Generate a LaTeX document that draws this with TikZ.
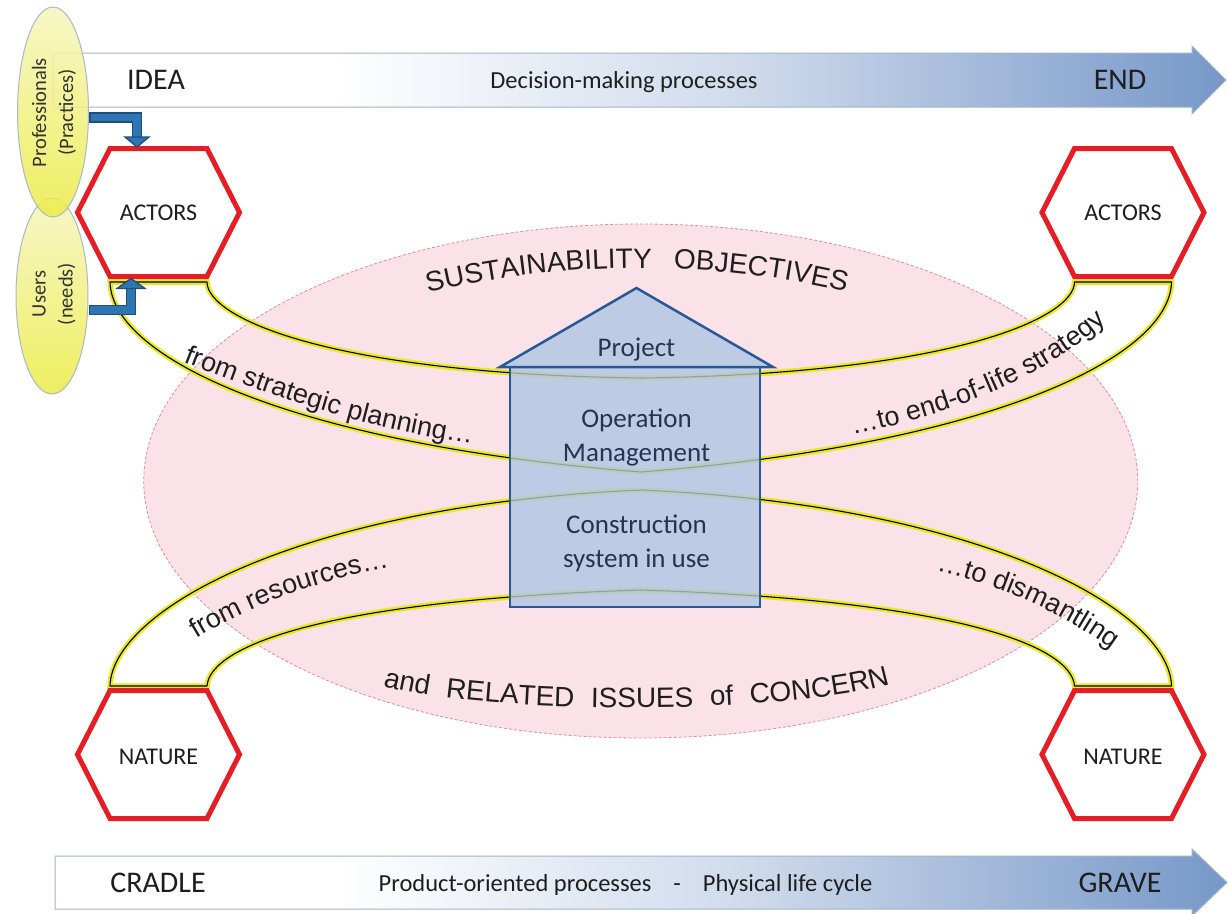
\documentclass[tikz,border=0pt]{standalone}
\usepackage{fontspec}
\setmainfont{Carlito}
\newfontfamily\arialfam{Liberation Sans}
\usetikzlibrary{decorations.text,shapes.geometric,calc}
\definecolor{arrblue}{RGB}{118,152,200}
\definecolor{arrmid}{RGB}{205,217,235}
\definecolor{arredge}{RGB}{165,180,200}
\definecolor{hexred}{RGB}{228,30,36}
\definecolor{pinkfill}{RGB}{250,226,232}
\definecolor{pinkedge}{RGB}{222,140,165}
\definecolor{bandyellow}{RGB}{232,232,40}
\definecolor{housefill}{RGB}{175,198,227}
\definecolor{houseedge}{RGB}{40,88,150}
\definecolor{housetext}{RGB}{38,52,80}
\definecolor{ellsat}{RGB}{236,236,70}
\definecolor{ellpale}{RGB}{246,246,190}
\definecolor{elledge}{RGB}{170,185,200}
\definecolor{bblue}{RGB}{46,117,182}
\definecolor{bdark}{RGB}{31,78,121}
\definecolor{txtdark}{RGB}{30,30,30}
\pgfdeclarehorizontalshading{arrowshade}{100bp}{color(0bp)=(white); color(25bp)=(white); color(37bp)=(white); color(55bp)=(arrmid); color(75bp)=(arrblue); color(100bp)=(arrblue)}
\newcommand\curvefont{\arialfam\fontsize{27}{30}\selectfont}
\newcommand\arcfont{\arialfam\fontsize{28}{30}\selectfont}
\newcommand\drawhex[1]{\filldraw[hexline] ([shift={(-48.5,-64)}]#1) -- ([shift={(48.5,-64)}]#1) -- ([shift={(81,0)}]#1) -- ([shift={(48.5,64)}]#1) -- ([shift={(-48.5,64)}]#1) -- ([shift={(-81,0)}]#1) -- cycle;}
\begin{document}
\begin{tikzpicture}[x=1pt,y=-1pt,
  bigarrow/.style={shading=arrowshade, draw=arredge, line width=1pt},
  hexline/.style={draw=hexred, line width=5pt, fill=white, line join=miter},
  hexlabel/.style={font=\fontsize{24}{28}\selectfont, text=txtdark, inner sep=0pt},
  band/.style={preaction={draw=bandyellow, line width=5.5pt}, draw=black, line width=1.1pt, line join=round},
  housestyle/.style={fill=housefill, fill opacity=0.8, draw=houseedge, line width=2.5pt, line join=miter},
  housetxt/.style={font=\fontsize{27}{34}\selectfont, text=housetext, align=center, inner sep=0pt},
  arrowtxt/.style={font=\fontsize{24.5}{28}\selectfont, text=txtdark, inner sep=0pt},
  endtxt/.style={font=\fontsize{30}{34}\selectfont, text=txtdark, inner sep=0pt},
  yell/.style={ellipse, inner sep=0pt, draw=elledge, line width=1pt, top color=ellpale, bottom color=ellsat, fill opacity=0.85},
  elltxt/.style={rotate=90, font=\fontsize{20.5}{27}\selectfont, text=black!80, align=center, inner sep=0pt},
  pinkell/.style={fill=pinkfill, draw=pinkedge, line width=0.8pt, dash pattern=on 3pt off 2pt},
  arctext/.style={decorate, decoration={text along path, text color=txtdark, text align={fit to path stretching spaces}, text={|\arcfont|#1}}},
  curved/.style={decorate, decoration={text along path, text color=txtdark, text align=center, text={|\curvefont|#1}}},
  bshaftout/.style={draw=bdark, line width=10.5pt, line join=miter},
  bshaftin/.style={draw=bblue, line width=7.5pt, line join=miter},
  btip/.style={fill=bblue, draw=bdark, line width=1.3pt, line join=miter}
]
\useasboundingbox (0,0) rectangle (1228,913);
\fill[white] (0,0) rectangle (1228,913);

% decision-making arrow
\shadedraw[bigarrow] (53,53) -- (1192,53) -- (1192,46) -- (1226,80) -- (1192,114) -- (1192,107) -- (53,107) -- cycle;
\node[endtxt, anchor=base] (idea) at (156,89.5) {IDEA};
\node[arrowtxt, anchor=base] (dmp) at (624,88) {Decision-making processes};
\node[endtxt, anchor=base] (endt) at (1120,89.5) {END};

% product arrow
\shadedraw[bigarrow] (55,856) -- (1192,856) -- (1192,849) -- (1227,882.5) -- (1192,916) -- (1192,909) -- (55,909) -- cycle;
\node[endtxt, anchor=base] (cradle) at (158,892.5) {CRADLE};
\node[arrowtxt, anchor=base] (pop) at (625.5,891) {Product-oriented processes\hspace{22pt}-\hspace{22pt}Physical life cycle};
\node[endtxt, anchor=base] (grave) at (1120,892.5) {GRAVE};

% pink ellipse
\draw[pinkell] (640.75,481) ellipse [x radius=497pt, y radius=257pt];

% bands
\draw[band] (110,282) -- (207,282) .. controls (207,318) and (330,374) .. (640.75,378) .. controls (951.5,374) and (1074.5,318) .. (1074.5,282) -- (1171.5,282) .. controls (1169.5,360) and (981.5,445) .. (640.75,472) .. controls (300,445) and (112,360) .. (110,282) -- cycle;
\draw[band] (110,686) -- (207,686) .. controls (210,645) and (330,600) .. (640.75,590) .. controls (951.5,600) and (1071.5,645) .. (1074.5,686) -- (1171.5,686) .. controls (1169.5,610) and (981.5,505) .. (640.75,490) .. controls (300,505) and (112,610) .. (110,686) -- cycle;

% curved texts
\path[arctext={SUSTAINABILITY OBJECTIVES}] (428,293) .. controls (563,260) and (712,260) .. (846,292);
\path[arctext={and RELATED ISSUES of CONCERN}] (383,686) .. controls (480,714) and (780,716) .. (890,684);
\path[curved={from strategic planning…}] (181,361) .. controls (280,400) and (380,432) .. (475,444);
\path[curved={…to end-of-life strategy}] (845,436) .. controls (930,420) and (1040,385) .. (1112,316);
\path[curved={from resources…}] (192,641) .. controls (235,614) and (310,580) .. (394,567);
\path[curved={…to dismantling}] (930,569) .. controls (990,582) and (1060,610) .. (1117,653);

% house
\filldraw[housestyle] (510,367) rectangle (760,607);
\filldraw[housestyle] (500,367) -- (636.5,288) -- (773,367) -- cycle;
\node[housetxt] (proj) at (636.5,349.5) {Project};
\node[housetxt] (opm) at (636.5,437) {Operation\\Management};
\node[housetxt] (csys) at (636.5,543) {Construction\\system in use};

% hexagons
\coordinate (cActL) at (158.5,212.5);
\coordinate (cActR) at (1123,212.5);
\coordinate (cNatL) at (158.5,754.5);
\coordinate (cNatR) at (1123,754.5);
\drawhex{cActL}
\drawhex{cActR}
\drawhex{cNatL}
\drawhex{cNatR}
\node[hexlabel] (actL) at (cActL) {ACTORS};
\node[hexlabel] (actR) at (cActR) {ACTORS};
\node[hexlabel] (natL) at ([yshift=-2pt]cNatL) {NATURE};
\node[hexlabel] (natR) at ([yshift=-2pt]cNatR) {NATURE};
\coordinate (actLtop) at ([shift={(0,-64)}]cActL);
\coordinate (actLbot) at ([shift={(0,64)}]cActL);

% stakeholder ellipses
\node[yell, minimum width=72pt, minimum height=196pt] (users) at (52,296) {};
\node[yell, minimum width=71pt, minimum height=210pt] (prof) at (53,112) {};
\node[elltxt] (proftxt) at (54,112.5) {Professionals\\(Practices)};
\node[elltxt] (usertxt) at (54,294) {Users\\(needs)};

% blue arrows
\coordinate (pAstart) at ([yshift=-5.5pt]prof.east);
\coordinate (pAtip) at ([shift={(-21.5,-1.5)}]actLtop);
\coordinate (pAbase) at ([yshift=10pt]pAtip);
\draw[bshaftout] (pAstart) -| (pAbase);
\draw[bshaftin] ([xshift=1.5pt]pAstart) -| (pAbase);
\filldraw[btip] ([xshift=-12pt]pAbase) -- ([xshift=12pt]pAbase) -- (pAtip) -- cycle;

\coordinate (uAstart) at ([yshift=-14pt]users.east);
\coordinate (uAtip) at ([shift={(-27.5,2)}]actLbot);
\coordinate (uAbase) at ([yshift=-10pt]uAtip);
\draw[bshaftout] (uAstart) -| (uAbase);
\draw[bshaftin] ([xshift=1.5pt]uAstart) -| (uAbase);
\filldraw[btip] ([xshift=-14pt]uAbase) -- ([xshift=14pt]uAbase) -- (uAtip) -- cycle;
\end{tikzpicture}
\end{document}
